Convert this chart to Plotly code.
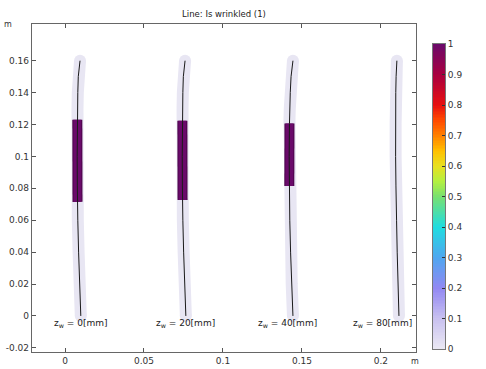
import plotly.graph_objects as go

# ---- data (metres) ----
y_pts = [0.16, 0.155, 0.15, 0.14, 0.13, 0.123, 0.1223, 0.1206, 0.10, 0.0815, 0.08, 0.0727, 0.0715, 0.06, 0.04, 0.02, 0.0]

line1_x = [0.0095, 0.0089, 0.0084, 0.0081, 0.0079, 0.0078, 0.0078, 0.0078, 0.0077, 0.0078, 0.0078, 0.0079, 0.0079, 0.0081, 0.0086, 0.0092, 0.0100]
line2_x = [0.0760, 0.0754, 0.0749, 0.0746, 0.0744, 0.0743, 0.0743, 0.0743, 0.0742, 0.0743, 0.0743, 0.0744, 0.0744, 0.0746, 0.0751, 0.0757, 0.0765]
line3_x = [0.1443, 0.1437, 0.1431, 0.1426, 0.1423, 0.1421, 0.1421, 0.1421, 0.1419, 0.1420, 0.1420, 0.1421, 0.1421, 0.1423, 0.1428, 0.1435, 0.1443]
line4_x = [0.2101, 0.2098, 0.2096, 0.2094, 0.2093, 0.2093, 0.2093, 0.2093, 0.2093, 0.2095, 0.2095, 0.2096, 0.2096, 0.2099, 0.2103, 0.2108, 0.2114]

# "Is wrinkled" value at each point (0 or 1)
line1_w = [0, 0, 0, 0, 0, 1, 1, 1, 1, 1, 1, 1, 1, 0, 0, 0, 0]
line2_w = [0, 0, 0, 0, 0, 0, 1, 1, 1, 1, 1, 1, 0, 0, 0, 0, 0]
line3_w = [0, 0, 0, 0, 0, 0, 0, 1, 1, 1, 0, 0, 0, 0, 0, 0, 0]
line4_w = [0] * 17

labels = ["z<sub>w</sub> = 0[mm]", "z<sub>w</sub> = 20[mm]", "z<sub>w</sub> = 40[mm]", "z<sub>w</sub> = 80[mm]"]
label_x = [0.0098, 0.0763, 0.1411, 0.2010]
label_y = [-0.0045, -0.0045, -0.0045, -0.0045]

x_ticks = [0, 0.05, 0.1, 0.15, 0.2]
x_ticktext = ["0", "0.05", "0.1", "0.15", "0.2"]
y_ticks = [-0.02, 0, 0.02, 0.04, 0.06, 0.08, 0.1, 0.12, 0.14, 0.16]
y_ticktext = ["-0.02", "0", "0.02", "0.04", "0.06", "0.08", "0.1", "0.12", "0.14", "0.16"]
cb_ticks = [0, 0.1, 0.2, 0.3, 0.4, 0.5, 0.6, 0.7, 0.8, 0.9, 1]
cb_ticktext = ["0", "0.1", "0.2", "0.3", "0.4", "0.5", "0.6", "0.7", "0.8", "0.9", "1"]

colorscale = [
    [0.0, "#ebe9f3"], [0.1, "#c9c1f0"], [0.2, "#9288f2"], [0.3, "#4fa6f0"],
    [0.4, "#20dce0"], [0.5, "#78e070"], [0.55, "#b4f040"], [0.6, "#e8e020"],
    [0.65, "#ffc000"], [0.7, "#ff8000"], [0.75, "#ff4a00"], [0.8, "#e81010"],
    [0.9, "#a80040"], [1.0, "#6a0a6a"],
]
tube_color = "#e8e6f3"
wr_color = "#6a0a6a"
wr_edge = "#4a0448"

FONT = "DejaVu Sans"
W, H = 486, 369
ML, MR, MT, MB = 32, 0, 24, 17
PW = W - ML - MR
PH = H - MT - MB


def px_x(p):
    return (p - ML) / PW


def px_y(p):
    return (H - MB - p) / PH


fig = go.Figure()

lines = [(line1_x, line1_w), (line2_x, line2_w), (line3_x, line3_w), (line4_x, line4_w)]
for xs, ws in lines:
    fig.add_trace(go.Scatter(x=xs, y=y_pts, mode="lines", line=dict(color=tube_color, width=12),
                             hoverinfo="skip", showlegend=False))
    fig.add_trace(go.Scatter(x=[xs[0], xs[-1]], y=[y_pts[0], y_pts[-1]], mode="markers",
                             marker=dict(color=tube_color, size=12, line=dict(width=0)),
                             hoverinfo="skip", showlegend=False))
    wx = [x for x, w in zip(xs, ws) if w == 1]
    wy = [y for y, w in zip(y_pts, ws) if w == 1]
    if wx:
        fig.add_trace(go.Scatter(x=wx, y=wy, mode="lines", line=dict(color=wr_edge, width=10),
                                 hoverinfo="skip", showlegend=False))
        fig.add_trace(go.Scatter(x=wx, y=wy, mode="lines", line=dict(color=wr_color, width=8),
                                 hoverinfo="skip", showlegend=False))
    fig.add_trace(go.Scatter(x=xs, y=y_pts, mode="lines", line=dict(color="#1a1a1a", width=1),
                             hoverinfo="skip", showlegend=False))

# colour bar drawn as a heatmap in its own axes
n = 200
cb_vals = [i / (n - 1) for i in range(n)]
fig.add_trace(go.Heatmap(x=[0], y=cb_vals, z=[[v] for v in cb_vals], colorscale=colorscale,
                         zmin=0, zmax=1, showscale=False, xaxis="x2", yaxis="y2", hoverinfo="skip"))

for t, lx, ly in zip(labels, label_x, label_y):
    fig.add_annotation(x=lx, y=ly, text=t, showarrow=False, xanchor="center", yanchor="middle",
                       font=dict(family=FONT, size=9, color="#222"))

fig.add_annotation(xref="paper", yref="paper", x=px_x(8), y=px_y(24), text="m", showarrow=False,
                   xanchor="center", yanchor="middle", font=dict(family=FONT, size=8, color="#333"))
fig.add_annotation(xref="paper", yref="paper", x=px_x(415), y=px_y(361), text="m", showarrow=False,
                   xanchor="center", yanchor="middle", font=dict(family=FONT, size=8, color="#333"))

axis_common = dict(showgrid=False, zeroline=False, showline=True, linecolor="#666", linewidth=1.2,
                   mirror="allticks", ticks="inside", ticklen=4, tickcolor="#555", automargin=False,
                   tickfont=dict(family=FONT, size=9, color="#333"))
fig.update_layout(
    xaxis=dict(domain=[0, px_x(416)], range=[-0.0209, 0.2222], tickvals=x_ticks,
               ticktext=x_ticktext, **axis_common),
    yaxis=dict(domain=[0, 1], range=[-0.0226, 0.183], tickvals=y_ticks, ticktext=y_ticktext,
               **axis_common),
    xaxis2=dict(domain=[px_x(433), px_x(445)], range=[-0.5, 0.5], anchor="y2", showticklabels=False,
                ticks="", showgrid=False, zeroline=False, showline=True, linecolor="#777",
                linewidth=1, mirror=True, automargin=False, fixedrange=True),
    yaxis2=dict(domain=[px_y(349), px_y(44)], range=[0, 1], anchor="x2", side="right",
                tickvals=cb_ticks, ticktext=cb_ticktext, ticks="inside", ticklen=3,
                tickcolor="#333", showgrid=False, zeroline=False, showline=True, linecolor="#777",
                linewidth=1, mirror=True, automargin=False, fixedrange=True,
                tickfont=dict(family=FONT, size=9, color="#333")),
    width=W, height=H,
    margin=dict(l=ML, r=MR, t=MT, b=MB, autoexpand=False),
    paper_bgcolor="white", plot_bgcolor="white",
    hovermode=False,
    title=dict(text="Line: Is wrinkled (1)", x=224 / W, xanchor="center", y=(H - 14) / H,
               yanchor="middle", font=dict(family=FONT, size=8.5, color="#222")),
)

fig.write_html("out.html", config={"displayModeBar": False, "staticPlot": True},
               post_script="document.body.style.margin='0';document.body.style.overflow='hidden';")
